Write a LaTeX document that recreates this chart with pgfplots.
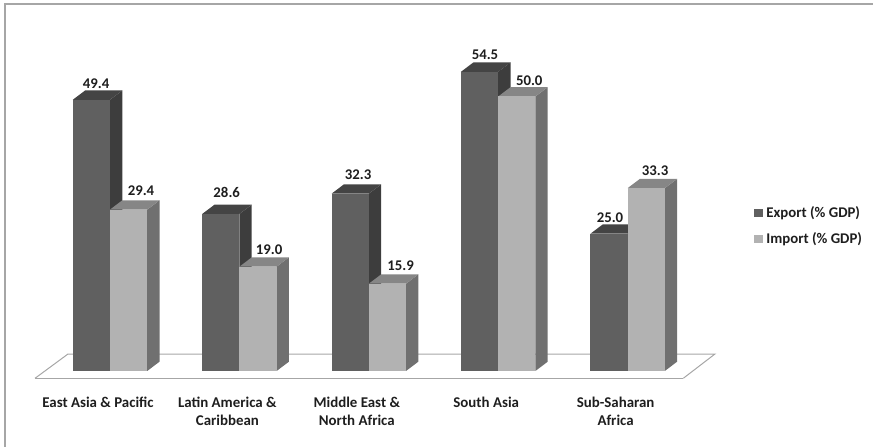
\documentclass[border=0pt]{standalone}
\usepackage{pgfplots}
\pgfplotsset{compat=1.18}
\usepackage{fontspec}
\setmainfont{Carlito}

\definecolor{expfront}{HTML}{606060}
\definecolor{expside}{HTML}{3D3D3D}
\definecolor{exptop}{HTML}{444444}
\definecolor{impfront}{HTML}{B2B2B2}
\definecolor{impside}{HTML}{707070}
\definecolor{imptop}{HTML}{868686}
\definecolor{framegrey}{HTML}{A6A6A6}
\definecolor{inkgrey}{HTML}{1E1E1E}

% One extruded bar: left edge, value, front, side and top colours.
\newcommand{\solidbar}[5]{%
  \pgfmathsetmacro{\xr}{#1+0.2875}%
  \pgfmathsetmacro{\xa}{#1+0.09505}%
  \pgfmathsetmacro{\xb}{#1+0.2875+0.09505}%
  \pgfmathsetmacro{\yb}{#2+1.694}%
  \addplot[fill=#4,draw=none,forget plot] coordinates
    {(\xr,0) (\xb,1.694) (\xb,\yb) (\xr,#2)} -- cycle;
  \addplot[fill=#5,draw=none,forget plot] coordinates
    {(#1,#2) (\xr,#2) (\xb,\yb) (\xa,\yb)} -- cycle;
  \addplot[fill=#3,draw=none,forget plot] coordinates
    {(#1,0) (\xr,0) (\xr,#2) (#1,#2)} -- cycle;
}
% Export and import bars of one region.
\newcommand{\regionbars}[3]{%
  \pgfmathsetmacro{\xl}{#1-0.2875}%
  \edef\xleft{\xl}%
  \solidbar{\xleft}{#2}{expfront}{expside}{exptop}%
  \solidbar{#1}{#3}{impfront}{impside}{imptop}%
}
% Value label: x position, value, lift above the front top edge.
\newcommand{\valuelabel}[3]{%
  \addplot[draw=none,forget plot,point meta=y,
    nodes near coords={\pgfmathprintnumber[assume math mode=true,fixed,zerofill,precision=1]{\pgfplotspointmeta}},
    nodes near coords style={anchor=center,yshift=#3,text=inkgrey,inner sep=0pt,
      font=\fontsize{14.8}{17}\selectfont\bfseries}]
    coordinates {(#1,#2)};
}

\begin{document}
\begin{tikzpicture}
\path[use as bounding box] (0,0) rectangle (873pt,447pt);
\begin{axis}[
  at={(0,0)}, anchor=south west,
  scale only axis, width=873pt, height=447pt,
  xmin=-0.85008, xmax=5.8964,
  ymin=-13.843, ymax=67.577,
  clip=false,
  axis line style={draw=none},
  ymajorticks=false,
  major tick length=0pt,
  xtick={0,1,2,3,4},
  xticklabels={East Asia \& Pacific,{Latin America \&\\Caribbean},{Middle East \&\\North Africa},South Asia,{Sub-Saharan\\Africa}},
  xticklabel style={font=\fontsize{14.9}{18.3}\selectfont\bfseries, text=inkgrey, align=center,
    anchor=north, xshift=-12pt, yshift=53.5pt},
  legend style={at={(0.8635,0.4944)}, anchor=west, draw=none, fill=none, inner sep=0pt,
    font=\fontsize{14.8}{17}\selectfont\bfseries, text=inkgrey,
    row sep=13.5pt,
    nodes={inner sep=0pt, anchor=west},
    /tikz/every odd column/.append style={column sep=3.9pt}},
  legend image code/.code={\fill[#1,draw=none] (0pt,-4.25pt) rectangle (8.5pt,4.25pt);},
  legend cell align=left,
]
% chart border: left and top only
\addplot[framegrey,line width=2pt,forget plot] coordinates {(-0.8114,-13.843) (-0.8114,66.85) (5.8964,66.85)};

% floor, back and side edges behind the bars
\addplot[framegrey,line width=1pt,forget plot] coordinates {(-0.5796,-1.33) (-0.3246,3.096) (4.675,3.096) (4.4304,-1.33)};

\regionbars{0}{49.4}{29.4}
\regionbars{1}{28.6}{19.0}
\regionbars{2}{32.3}{15.9}
\regionbars{3}{54.5}{50.0}
\regionbars{4}{25.0}{33.3}

% floor, front edge
\addplot[framegrey,line width=1.5pt,forget plot] coordinates {(-0.5796,-1.33) (4.4304,-1.33)};

% value labels
\valuelabel{-0.108}{49.4}{16pt}
\valuelabel{0.902}{28.6}{21.3pt}
\valuelabel{1.917}{32.3}{18.7pt}
\valuelabel{2.898}{54.5}{17.5pt}
\valuelabel{3.864}{25.0}{16pt}
\valuelabel{0.2396}{29.4}{19.3pt}
\valuelabel{1.229}{19.0}{17.4pt}
\valuelabel{2.2465}{15.9}{18pt}
\valuelabel{3.240}{50.0}{15.8pt}
\valuelabel{4.212}{33.3}{17.2pt}

\addlegendimage{fill=expfront}
\addlegendentry{Export (\% GDP)}
\addlegendimage{fill=impfront}
\addlegendentry{Import (\% GDP)}
\end{axis}
\end{tikzpicture}
\end{document}
